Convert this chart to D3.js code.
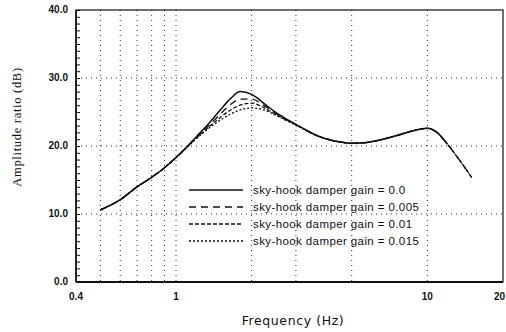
<!DOCTYPE html>
<html>
<head>
<meta charset="utf-8">
<script src="https://cdn.jsdelivr.net/npm/d3@7"></script>
<style>
  body { margin: 0; background: #fff; }
  text { fill: #111; }
</style>
</head>
<body>
<svg width="506" height="332"></svg>
<script>
// frequencies (Hz)
const freq = [0.5, 0.6, 0.7, 0.8, 0.9, 1.0, 1.1, 1.2, 1.35, 1.5, 1.65, 1.8, 2.0, 2.25, 2.5, 2.8, 3.2, 3.6, 4.0, 4.5, 5.0, 5.7, 6.5, 7.5, 8.5, 10, 11, 12, 13.5, 15];

// amplitude ratio (dB) for each damper gain
const gain0    = [10.6, 12.1, 14.0, 15.4, 16.8, 18.3, 19.8, 21.3, 23.3, 25.3, 27.0, 28.0, 27.6, 26.2, 24.9, 23.8, 22.6, 21.6, 21.0, 20.6, 20.4, 20.5, 20.9, 21.5, 22.1, 22.6, 21.9, 20.3, null, null];
const gain0005 = [10.6, 12.1, 14.0, 15.4, 16.8, 18.3, 19.8, 21.2, 23.0, 24.7, 26.1, 26.9, 26.9, 25.9, 24.8, 23.7, 22.6, 21.6, 21.0, 20.6, 20.4, 20.5, 20.9, 21.5, 22.1, 22.6, 21.9, 20.3, 17.8, 15.4];
const gain001  = [10.6, 12.1, 14.0, 15.4, 16.8, 18.3, 19.8, 21.1, 22.8, 24.2, 25.3, 26.0, 26.3, 25.6, 24.6, 23.7, 22.6, 21.6, 21.0, 20.6, 20.4, 20.5, 20.9, 21.5, 22.1, 22.6, 21.9, 20.3, 17.8, 15.4];
const gain0015 = [10.6, 12.1, 14.0, 15.4, 16.8, 18.3, 19.7, 21.0, 22.6, 23.8, 24.7, 25.3, 25.6, 25.3, 24.5, 23.6, 22.5, 21.6, 21.0, 20.6, 20.4, 20.5, 20.9, 21.5, 22.1, 22.6, 21.9, 20.3, 17.8, 15.4];

const seriesNames = ["sky-hook damper gain = 0.0", "sky-hook damper gain = 0.005", "sky-hook damper gain = 0.01", "sky-hook damper gain = 0.015"];
const seriesValues = [gain0, gain0005, gain001, gain0015];
const seriesDash = [null, "7,5", "4,2", "2,2"];

const yTicks = [0, 10, 20, 30, 40];
const yTickLabels = ["0.0", "10.0", "20.0", "30.0", "40.0"];
const xTicks = [0.4, 1, 10, 20];
const xTickLabels = ["0.4", "1", "10", "20"];
const xGrid = [0.5, 0.6, 0.7, 0.8, 0.9, 1, 2, 3, 5, 10];
const yGrid = [10, 20, 30];

const svg = d3.select("svg");
const mLeft = 76, mRight = 503, mTop = 10, mBottom = 282;

const x = d3.scaleLog().domain([0.4, 20]).range([mLeft, mRight]);
const y = d3.scaleLinear().domain([0, 40]).range([mBottom, mTop]);

// grid
svg.selectAll(".vgrid").data(xGrid).enter().append("line")
  .attr("x1", d => x(d)).attr("x2", d => x(d))
  .attr("y1", mTop).attr("y2", mBottom)
  .attr("stroke", "#333").attr("stroke-width", 1).attr("stroke-dasharray", "1,4");
svg.selectAll(".hgrid").data(yGrid).enter().append("line")
  .attr("x1", mLeft).attr("x2", mRight)
  .attr("y1", d => y(d)).attr("y2", d => y(d))
  .attr("stroke", "#333").attr("stroke-width", 1).attr("stroke-dasharray", "1,4");

// frame
svg.append("rect").attr("x", mLeft).attr("y", mTop)
  .attr("width", mRight - mLeft).attr("height", mBottom - mTop)
  .attr("fill", "none").attr("stroke", "#111").attr("stroke-width", 1.2);
svg.append("line").attr("x1", mLeft).attr("x2", mRight).attr("y1", mBottom).attr("y2", mBottom)
  .attr("stroke", "#111").attr("stroke-width", 2);
svg.append("line").attr("x1", mLeft).attr("x2", mLeft).attr("y1", mTop).attr("y2", mBottom)
  .attr("stroke", "#111").attr("stroke-width", 1.6);

// minor ticks on the left axis, every 1 dB
const yAxis = d3.axisRight(y).tickValues(d3.range(0, 41, 1)).tickSize(4).tickFormat("");
svg.append("g").attr("transform", `translate(${mLeft},0)`).call(yAxis)
  .call(g => g.select(".domain").remove())
  .selectAll("line").attr("stroke", "#111");

// y tick labels
svg.selectAll(".ylab").data(yTicks).enter().append("text")
  .attr("x", 68).attr("y", d => y(d) + 3)
  .attr("text-anchor", "end")
  .style("font", "bold 10px 'Liberation Sans', Arial, sans-serif")
  .text((d, i) => yTickLabels[i]);

// x tick labels (last one pulled in so it stays on the page)
svg.selectAll(".xlab").data(xTicks).enter().append("text")
  .attr("x", d => d === 20 ? 505 : x(d)).attr("y", 300)
  .attr("text-anchor", d => d === 20 ? "end" : "middle")
  .style("font", "bold 10px 'Liberation Sans', Arial, sans-serif")
  .text((d, i) => xTickLabels[i]);

// axis titles
svg.append("text").attr("x", 293).attr("y", 325).attr("text-anchor", "middle")
  .style("font", "12.5px 'DejaVu Sans', sans-serif").style("letter-spacing", "0.6px")
  .text("Frequency (Hz)");
svg.append("text").attr("transform", "translate(21,127) rotate(-90)").attr("text-anchor", "middle")
  .style("font", "12.5px 'Liberation Serif', 'Times New Roman', serif").style("letter-spacing", "0.7px")
  .text("Amplitude ratio (dB)");

// curves
const line = d3.line()
  .defined(d => d[1] !== null)
  .x(d => x(d[0])).y(d => y(d[1]))
  .curve(d3.curveMonotoneX);

seriesValues.slice().reverse().forEach((vals, ri) => {
  const i = seriesValues.length - 1 - ri;
  svg.append("path")
    .datum(freq.map((f, k) => [f, vals[k]]))
    .attr("d", line)
    .attr("fill", "none").attr("stroke", "#111")
    .attr("stroke-width", i === 0 ? 1.5 : 1.3)
    .attr("stroke-dasharray", seriesDash[i]);
});

// legend
const legRows = [190, 207, 224, 241];
const leg = svg.selectAll(".leg").data(seriesNames).enter().append("g");
leg.append("line")
  .attr("x1", 189).attr("x2", 243)
  .attr("y1", (d, i) => legRows[i]).attr("y2", (d, i) => legRows[i])
  .attr("stroke", "#111").attr("stroke-width", 1.5)
  .attr("stroke-dasharray", (d, i) => seriesDash[i]);
leg.append("text")
  .attr("x", 253).attr("y", (d, i) => legRows[i] + 4)
  .style("font", "11.5px 'Liberation Sans', Arial, sans-serif")
  .style("letter-spacing", "0.4px")
  .text(d => d);
</script>
</body>
</html>
